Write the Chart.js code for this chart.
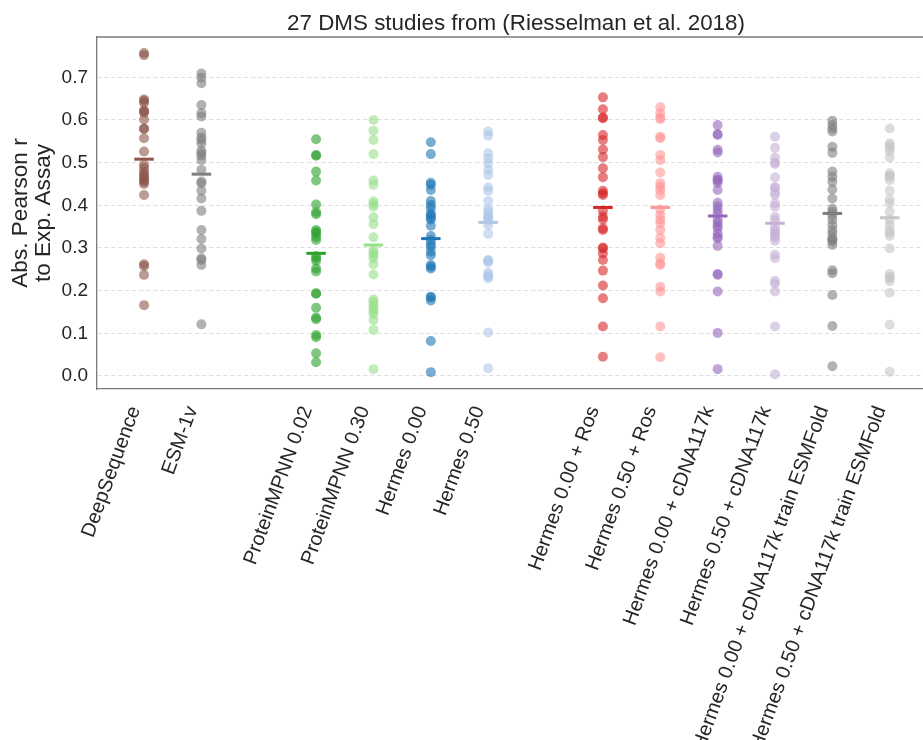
<!DOCTYPE html>
<html>
<head>
<meta charset="utf-8">
<script src="https://cdn.jsdelivr.net/npm/chart.js@4/dist/chart.umd.min.js"></script>
<style>
  html, body { margin: 0; padding: 0; background: #ffffff; overflow: hidden; }
  #wrap { width: 923px; height: 740px; }
</style>
</head>
<body>
<div id="wrap"><canvas id="chart" width="923" height="740"></canvas></div>
<script>
// Method names shown on the x axis, and where each sits on the axis (gaps separate groups)
const categories = [
  'DeepSequence', 'ESM-1v',
  'ProteinMPNN 0.02', 'ProteinMPNN 0.30', 'Hermes 0.00', 'Hermes 0.50',
  'Hermes 0.00 + Ros', 'Hermes 0.50 + Ros',
  'Hermes 0.00 + cDNA117k', 'Hermes 0.50 + cDNA117k',
  'Hermes 0.00 + cDNA117k train ESMFold', 'Hermes 0.50 + cDNA117k train ESMFold'
];
const positions = [0, 1, 3, 4, 5, 6, 8, 9, 10, 11, 12, 13];
const yTickValues = [0.0, 0.1, 0.2, 0.3, 0.4, 0.5, 0.6, 0.7];

// |Pearson r| against experiment, one value per DMS study (27 studies)
const deepSequence = [0.757, 0.752, 0.648, 0.645, 0.640, 0.622, 0.620, 0.617, 0.601, 0.580, 0.579, 0.557, 0.526, 0.495, 0.488, 0.479, 0.473, 0.468, 0.463, 0.458, 0.455, 0.450, 0.424, 0.262, 0.258, 0.237, 0.166];
const esm1v = [0.709, 0.699, 0.686, 0.635, 0.616, 0.608, 0.570, 0.559, 0.553, 0.545, 0.528, 0.522, 0.516, 0.506, 0.483, 0.456, 0.452, 0.434, 0.416, 0.387, 0.342, 0.321, 0.299, 0.276, 0.272, 0.260, 0.121];
const proteinMpnn002 = [0.555, 0.518, 0.516, 0.479, 0.458, 0.402, 0.384, 0.379, 0.342, 0.338, 0.334, 0.326, 0.319, 0.281, 0.276, 0.270, 0.252, 0.245, 0.194, 0.193, 0.160, 0.137, 0.133, 0.096, 0.091, 0.053, 0.032];
const proteinMpnn030 = [0.600, 0.575, 0.553, 0.520, 0.458, 0.448, 0.409, 0.403, 0.397, 0.372, 0.356, 0.325, 0.295, 0.288, 0.284, 0.276, 0.262, 0.238, 0.179, 0.174, 0.166, 0.159, 0.152, 0.145, 0.131, 0.108, 0.016];
const hermes000 = [0.548, 0.520, 0.453, 0.448, 0.436, 0.410, 0.401, 0.393, 0.380, 0.377, 0.371, 0.367, 0.352, 0.328, 0.318, 0.309, 0.303, 0.291, 0.283, 0.260, 0.256, 0.252, 0.186, 0.184, 0.177, 0.082, 0.009];
const hermes050 = [0.573, 0.563, 0.522, 0.510, 0.498, 0.483, 0.471, 0.442, 0.434, 0.410, 0.391, 0.385, 0.375, 0.373, 0.370, 0.365, 0.354, 0.333, 0.272, 0.270, 0.266, 0.242, 0.236, 0.233, 0.229, 0.102, 0.018];
const hermes000Ros = [0.653, 0.625, 0.606, 0.604, 0.565, 0.553, 0.531, 0.513, 0.487, 0.466, 0.434, 0.428, 0.424, 0.387, 0.373, 0.367, 0.346, 0.342, 0.301, 0.299, 0.287, 0.272, 0.247, 0.212, 0.182, 0.116, 0.045];
const hermes050Ros = [0.630, 0.616, 0.606, 0.602, 0.561, 0.557, 0.518, 0.506, 0.477, 0.452, 0.444, 0.436, 0.424, 0.390, 0.377, 0.366, 0.358, 0.342, 0.324, 0.311, 0.277, 0.264, 0.260, 0.209, 0.198, 0.116, 0.044];
const hermes000Cdna = [0.588, 0.567, 0.565, 0.530, 0.524, 0.467, 0.460, 0.458, 0.453, 0.436, 0.406, 0.398, 0.389, 0.381, 0.367, 0.359, 0.352, 0.346, 0.334, 0.326, 0.323, 0.305, 0.239, 0.237, 0.198, 0.101, 0.016];
const hermes050Cdna = [0.561, 0.535, 0.512, 0.500, 0.497, 0.465, 0.442, 0.442, 0.430, 0.424, 0.405, 0.397, 0.373, 0.365, 0.350, 0.342, 0.336, 0.330, 0.326, 0.317, 0.284, 0.276, 0.223, 0.216, 0.198, 0.116, 0.004];
const hermes000Esmfold = [0.598, 0.588, 0.580, 0.573, 0.537, 0.523, 0.479, 0.467, 0.455, 0.437, 0.416, 0.392, 0.385, 0.377, 0.366, 0.354, 0.342, 0.334, 0.323, 0.320, 0.315, 0.307, 0.248, 0.241, 0.190, 0.117, 0.023];
const hermes050Esmfold = [0.580, 0.545, 0.540, 0.534, 0.526, 0.512, 0.475, 0.470, 0.467, 0.459, 0.434, 0.414, 0.405, 0.385, 0.366, 0.354, 0.342, 0.335, 0.328, 0.299, 0.239, 0.232, 0.229, 0.222, 0.195, 0.120, 0.010];

const seriesValues = [
  deepSequence, esm1v,
  proteinMpnn002, proteinMpnn030, hermes000, hermes050,
  hermes000Ros, hermes050Ros, hermes000Cdna, hermes050Cdna,
  hermes000Esmfold, hermes050Esmfold
];

// tab10 colours and their light partners
const seriesColors = [
  '#8c564b', '#7f7f7f',
  '#2ca02c', '#98df8a', '#1f77b4', '#aec7e8',
  '#d62728', '#ff9896', '#9467bd', '#c5b0d5',
  '#7f7f7f', '#c7c7c7'
];

const FONT = '"Liberation Sans", Arial, Helvetica, sans-serif';
const TEXT = '#262626';
const AXIS = '#7a7a7a';

function withAlpha(hex, a) {
  const n = parseInt(hex.slice(1), 16);
  return `rgba(${(n >> 16) & 255}, ${(n >> 8) & 255}, ${n & 255}, ${a})`;
}
function mean(vals) {
  return vals.reduce((s, v) => s + v, 0) / vals.length;
}

const datasets = [];
seriesValues.forEach((vals, i) => {
  datasets.push({
    type: 'scatter',
    label: categories[i],
    data: vals.map(v => ({ x: positions[i], y: v })),
    backgroundColor: withAlpha(seriesColors[i], 0.6),
    borderWidth: 0,
    pointRadius: 5,
    pointHoverRadius: 5,
    order: 2
  });
});
// short horizontal bar at each method's mean
seriesValues.forEach((vals, i) => {
  const m = mean(vals);
  datasets.push({
    type: 'line',
    label: categories[i] + ' mean',
    data: [{ x: positions[i] - 0.17, y: m }, { x: positions[i] + 0.17, y: m }],
    borderColor: seriesColors[i],
    borderWidth: 3,
    pointRadius: 0,
    fill: false,
    order: 1
  });
});

const decorations = {
  id: 'decorations',
  afterDraw(chart) {
    const { ctx, chartArea } = chart;
    ctx.save();
    // top frame line
    ctx.strokeStyle = AXIS;
    ctx.lineWidth = 1.3;
    ctx.beginPath();
    ctx.moveTo(chartArea.left, chartArea.top);
    ctx.lineTo(chartArea.right, chartArea.top);
    ctx.stroke();

    // title
    ctx.fillStyle = TEXT;
    ctx.font = `22.4px ${FONT}`;
    ctx.textAlign = 'center';
    ctx.textBaseline = 'alphabetic';
    ctx.fillText('27 DMS studies from (Riesselman et al. 2018)', 516, 30);

    // y axis title, two lines
    const yMid = (chartArea.top + chartArea.bottom) / 2;
    ctx.font = `22.6px ${FONT}`;
    ctx.translate(0, yMid);
    ctx.rotate(-Math.PI / 2);
    ctx.fillText('Abs. Pearson r', 0, 27);
    ctx.fillText('to Exp. Assay', 0, 50);
    ctx.restore();
  }
};

new Chart(document.getElementById('chart').getContext('2d'), {
  type: 'scatter',
  data: { datasets },
  options: {
    responsive: false,
    animation: false,
    devicePixelRatio: 1,
    layout: { autoPadding: false, padding: { top: 37, left: 0, right: 0, bottom: 0 } },
    plugins: {
      legend: { display: false },
      tooltip: { enabled: false },
      title: { display: false }
    },
    scales: {
      x: {
        type: 'linear',
        min: -0.82,
        max: 13.58,
        afterBuildTicks: scale => { scale.ticks = positions.map(v => ({ value: v })); },
        afterFit: scale => {
          scale.height = 351;
          scale.paddingLeft = 0;
          scale.paddingRight = 0;
        },
        grid: { display: false, drawTicks: false },
        border: { display: true, color: AXIS, width: 1.3 },
        ticks: {
          autoSkip: false,
          minRotation: 70,
          maxRotation: 70,
          padding: 14,
          labelOffset: -9,
          color: TEXT,
          font: { family: FONT, size: 20 },
          callback: v => categories[positions.indexOf(v)] || ''
        }
      },
      y: {
        type: 'linear',
        min: -0.0305,
        max: 0.7945,
        afterBuildTicks: scale => { scale.ticks = yTickValues.map(v => ({ value: v })); },
        afterFit: scale => { scale.width = 97; },
        grid: { color: '#dedede', lineWidth: 1, drawTicks: false },
        border: { display: true, color: AXIS, width: 1.3, dash: [4, 3] },
        ticks: {
          padding: 9,
          color: TEXT,
          font: { family: FONT, size: 19 },
          callback: v => Number(v).toFixed(1)
        }
      }
    }
  },
  plugins: [decorations]
});
</script>
</body>
</html>
